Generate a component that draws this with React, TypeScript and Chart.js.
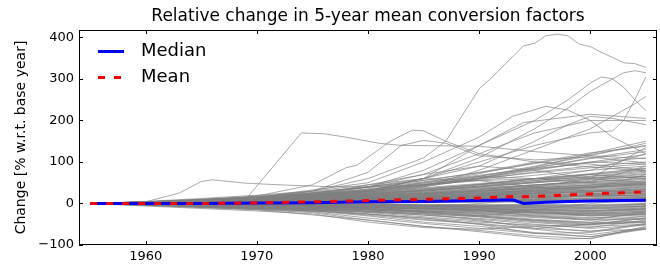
import React, { useEffect, useRef } from 'react';
import { Chart, registerables } from 'chart.js';

Chart.register(...registerables);

const TITLE = 'Relative change in 5-year mean conversion factors';
const Y_LABEL = 'Change [% w.r.t. base year]';
const X_TICKS = [1960, 1970, 1980, 1990, 2000];
const Y_TICKS = [-100, 0, 100, 200, 300, 400];
const X_MIN = 1954;
const X_MAX = 2006;
const Y_MIN = -100;
const Y_MAX = 418;

// common 5-year grid for the bulk of the country lines
const GRID_YEARS = [1955, 1960, 1965, 1970, 1975, 1980, 1985, 1990, 1995, 2000, 2005];
const BULK: number[][] = [
  [0, -3, -8, -12, -18, -30, -45, -55, -70, -80, -60],
  [0, -5, -10, -15, -22, -40, -55, -65, -78, -85, -55],
  [0, -2, -6, -10, -15, -25, -38, -50, -62, -75, -58],
  [0, -4, -9, -14, -20, -35, -48, -60, -72, -70, -50],
  [0, -6, -12, -18, -25, -45, -58, -62, -55, -50, -45],
  [0, -3, -7, -11, -16, -28, -40, -48, -60, -66, -62],
  [0, -2, -5, -9, -14, -22, -32, -42, -55, -68, -48],
  [0, -1, -4, -8, -12, -20, -28, -38, -50, -60, -52],
  [0, -4, -8, -12, -18, -26, -35, -45, -52, -58, -40],
  [0, -3, -6, -10, -13, -18, -25, -32, -44, -52, -35],
  [0, -2, -4, -7, -10, -15, -22, -30, -40, -48, -42],
  [0, -1, -3, -6, -9, -13, -20, -28, -38, -45, -30],
  [0, -3, -5, -8, -11, -16, -20, -26, -34, -40, -38],
  [0, -2, -4, -6, -8, -12, -18, -24, -30, -36, -25],
  [0, -1, -3, -5, -7, -10, -15, -20, -28, -34, -32],
  [0, -2, -5, -8, -10, -14, -18, -22, -26, -30, -28],
  [0, -1, -2, -4, -6, -9, -12, -18, -24, -28, -20],
  [0, -3, -6, -9, -12, -15, -17, -20, -22, -25, -22],
  [0, -1, -2, -3, -5, -8, -11, -15, -20, -24, -18],
  [0, -2, -3, -5, -8, -10, -12, -15, -18, -22, -15],
  [0, -1, -3, -4, -6, -7, -10, -12, -16, -20, -12],
  [0, -2, -4, -7, -9, -11, -13, -14, -15, -18, -10],
  [0, -1, -2, -3, -4, -6, -8, -10, -14, -16, -14],
  [0, -1, -1, -2, -4, -5, -7, -9, -12, -14, -8],
  [0, -2, -3, -4, -5, -6, -7, -8, -10, -12, -6],
  [0, -1, -2, -3, -3, -5, -6, -7, -8, -10, -5],
  [0, 0, -1, -2, -3, -4, -5, -6, -6, -8, -3],
  [0, -1, -2, -2, -2, -3, -4, -5, -5, -6, -2],
  [0, 0, -1, -1, -2, -2, -3, -4, -4, -5, -1],
  [0, -1, 0, -1, -1, -2, -2, -3, -2, -3, 0],
  [0, 1, 1, 2, 2, 3, 3, 4, 4, 5, 6],
  [0, 0, 1, 1, 2, 2, 3, 3, 5, 6, 7],
  [0, 1, 2, 2, 3, 3, 4, 5, 6, 7, 8],
  [0, 1, 1, 2, 3, 4, 5, 6, 5, 6, 9],
  [0, 2, 3, 4, 5, 5, 6, 7, 6, 8, 10],
  [0, 1, 2, 3, 4, 5, 6, 8, 7, 9, 12],
  [0, 2, 3, 5, 6, 7, 8, 10, 9, 11, 13],
  [0, 1, 3, 4, 6, 7, 9, 11, 10, 12, 15],
  [0, 2, 4, 5, 7, 8, 10, 12, 12, 14, 16],
  [0, 1, 2, 4, 5, 6, 7, 8, 3, 5, 4],
  [0, 2, 4, 6, 8, 10, 12, 14, 16, 18, 20],
  [0, 1, 3, 5, 7, 9, 11, 13, 15, 17, 18],
  [0, 3, 5, 7, 9, 11, 13, 15, 14, 18, 22],
  [0, 2, 4, 7, 9, 12, 14, 16, 18, 20, 24],
  [0, 1, 4, 6, 9, 11, 14, 17, 19, 22, 25],
  [0, 3, 6, 8, 10, 12, 15, 18, 21, 24, 28],
  [0, 2, 5, 8, 11, 14, 17, 20, 24, 27, 30],
  [0, 1, 3, 6, 10, 13, 16, 20, 25, 28, 32],
  [0, 2, 4, 6, 9, 12, 16, 22, 26, 30, 35],
  [0, 3, 5, 9, 12, 15, 20, 24, 28, 33, 38],
  [0, 1, 4, 7, 10, 14, 18, 23, 30, 36, 40],
  [0, 2, 6, 10, 14, 18, 22, 26, 32, 38, 42],
  [0, 3, 7, 11, 15, 19, 24, 28, 35, 40, 45],
  [0, 2, 5, 9, 13, 18, 23, 30, 36, 42, 48],
  [0, 1, 3, 5, 8, 12, 18, 25, 32, 40, 50],
  [0, 2, 4, 8, 12, 16, 22, 30, 38, 45, 52],
  [0, 4, 8, 12, 16, 20, 25, 32, 40, 48, 55],
  [0, 2, 6, 10, 15, 20, 26, 34, 42, 50, 58],
  [0, 3, 7, 12, 18, 24, 30, 38, 45, 52, 60],
  [0, 1, 5, 9, 14, 20, 27, 35, 44, 53, 62],
  [0, 3, 8, 13, 18, 25, 32, 40, 50, 58, 65],
  [0, 2, 6, 11, 17, 24, 32, 42, 52, 60, 70],
  [0, 4, 9, 14, 20, 28, 36, 45, 55, 65, 75],
  [0, 3, 7, 13, 20, 28, 38, 48, 60, 70, 80],
  [0, 2, 5, 10, 16, 24, 34, 46, 60, 72, 85],
  [0, 3, 8, 14, 22, 32, 44, 56, 68, 80, 90],
  [0, 4, 10, 16, 24, 34, 46, 60, 74, 86, 95],
  [0, 2, 6, 12, 20, 30, 42, 58, 76, 90, 100],
  [0, 3, 9, 15, 25, 38, 52, 68, 84, 98, 110],
  [0, 1, 4, 8, 14, 22, 32, 45, 60, 80, 120],
  [0, 2, 5, 9, 15, 25, 40, 60, 85, 110, 130],
  [0, 3, 7, 12, 20, 30, 45, 65, 90, 115, 145],
  [0, 2, 6, 11, 18, 28, 42, 62, 88, 120, 150],
  [0, 1, 3, 6, 10, 15, 22, 30, 40, 60, 135],
  [0, 2, 5, 9, 14, 20, 28, 36, 45, 52, 90],
  [0, 1, 2, 4, 6, 9, 14, 20, 28, 35, 70],
  [0, 5, 12, 20, 30, 45, 60, 55, 40, 30, 25],
  [0, 3, 8, 15, 25, 40, 70, 90, 80, 60, 50],
  [0, 2, 6, 12, 22, 35, 50, 65, 60, 50, 45],
  [0, 4, 10, 18, 28, 40, 55, 75, 100, 95, 80],
  [0, 2, 5, 10, 18, 30, 45, 60, 80, 100, 95],
  [0, 1, 3, 7, 12, 20, 30, 42, 55, 70, 60],
  [0, -2, -5, -8, -5, 0, 10, 20, 30, 25, 15],
  [0, -3, -6, -10, -15, -20, -10, 0, 10, 20, 30],
  [0, -1, -3, -5, -8, -12, -20, -30, -15, 0, 10],
  [0, 2, 4, 5, 3, 0, -5, -15, -30, -40, -20],
  [0, 3, 6, 8, 6, 2, -5, -10, -20, -30, -25],
  [0, -4, -8, -12, -16, -20, -25, -40, -60, -50, -35],
  [0, -2, -6, -12, -18, -25, -35, -50, -72, -80, -60],
  [0, 1, 2, 4, 6, 9, 13, 18, 22, 28, 34],
  [0, -1, -2, -4, -7, -10, -14, -18, -22, -26, -24],
  [0, 2, 3, 5, 8, 11, 15, 19, 24, 30, 36],
  [0, -2, -4, -6, -9, -13, -18, -24, -32, -38, -36],
  [0, 1, 3, 5, 8, 11, 15, 20, 26, 32, 40],
  [0, -1, -3, -6, -10, -15, -22, -30, -40, -46, -44],
  [0, 2, 4, 7, 10, 14, 19, 25, 30, 38, 46],
  [0, 0, -1, -3, -5, -8, -12, -16, -22, -28, -26],
  [0, 1, 2, 3, 5, 7, 10, 14, 18, 22, 26],
  [0, -1, -2, -3, -5, -7, -9, -11, -14, -17, -16],
  [0, 1, 2, 3, 4, 6, 8, 11, 14, 17, 19],
  [0, 0, -1, -2, -3, -4, -6, -8, -10, -12, -11],
  [0, 2, 3, 4, 6, 8, 11, 13, 16, 18, 21],
  [0, 1, 1, 2, 3, 5, 6, 8, 10, 12, 14],
  [0, -1, -1, -2, -3, -4, -5, -6, -7, -9, -7],
  [0, 1, 2, 2, 3, 4, 5, 6, 8, 9, 11],
  [0, 2, 5, 8, 12, 16, 21, 27, 34, 41, 48],
  [0, -2, -5, -8, -12, -18, -24, -32, -42, -50, -46],
  [0, 1, 4, 7, 11, 16, 22, 29, 37, 45, 54],
  [0, -3, -6, -10, -14, -20, -28, -36, -46, -55, -50],
  [0, 3, 6, 10, 14, 19, 25, 31, 38, 44, 50],
  [0, 1, 3, 6, 9, 13, 18, 24, 32, 40, 44],
  [0, -1, -2, -4, -6, -9, -13, -17, -20, -23, -19],
  [0, 2, 4, 6, 8, 10, 13, 16, 20, 24, 29],
  [0, -2, -3, -5, -7, -9, -11, -13, -16, -19, -13],
  [0, 1, 3, 5, 7, 10, 14, 19, 24, 28, 33],
  [0, 3, 5, 8, 12, 17, 24, 33, 44, 56, 66],
  [0, 2, 6, 10, 16, 23, 31, 40, 50, 62, 72],
  [0, 4, 8, 13, 19, 26, 35, 46, 58, 70, 84],
  [0, 1, 5, 10, 16, 22, 30, 40, 52, 66, 78],
  [0, 3, 8, 14, 22, 32, 45, 62, 82, 100, 118],
  [0, 2, 7, 13, 21, 32, 48, 66, 86, 108, 125],
  [0, 4, 9, 16, 26, 40, 56, 74, 96, 118, 140],
  [0, 2, 6, 12, 20, 32, 50, 72, 98, 122, 138],
];

// individually traced outlier lines: [year, value]
const OUTLIERS: [number, number][][] = [
  [[1955, 0], [1960, 3], [1965, 6], [1969, 10], [1974, 170], [1976, 168], [1978, 160], [1981, 145], [1983, 140], [1990, 138], [1995, 125], [2000, 115], [2005, 108]],
  [[1955, 0], [1960, 2], [1965, 5], [1970, 18], [1975, 45], [1978, 86], [1979, 92], [1982, 150], [1984, 177], [1985, 175], [1987, 150], [1990, 120], [1995, 100], [2000, 88], [2005, 78]],
  [[1955, 0], [1965, 6], [1970, 12], [1975, 30], [1980, 75], [1983, 140], [1985, 152], [1987, 145], [1990, 115], [1995, 105], [2000, 112], [2005, 98]],
  [[1955, 0], [1960, 4], [1963, 25], [1965, 53], [1966, 57], [1969, 49], [1972, 45], [1976, 41], [1980, 40], [1985, 45], [1990, 55], [1995, 60], [2000, 62], [2005, 65]],
  [[1955, 0], [1960, 2], [1965, 8], [1970, 15], [1975, 30], [1980, 60], [1985, 110], [1987, 150], [1990, 276], [1991, 300], [1994, 380], [1995, 386], [1996, 404], [1997, 408], [1998, 404], [1999, 384], [2000, 378], [2001, 364], [2002, 352], [2003, 339], [2004, 337], [2005, 328]],
  [[1955, 0], [1960, 1], [1970, 10], [1980, 40], [1985, 80], [1990, 140], [1995, 200], [1998, 250], [2000, 290], [2001, 305], [2002, 300], [2003, 280], [2004, 250], [2005, 224]],
  [[1955, 0], [1960, 2], [1975, 20], [1985, 60], [1990, 110], [1995, 180], [1998, 230], [2000, 270], [2002, 300], [2003, 315], [2004, 320], [2005, 315]],
  [[1955, 0], [1960, 1], [1970, 5], [1980, 30], [1985, 60], [1990, 100], [1995, 140], [2000, 170], [2002, 175], [2003, 200], [2004, 250], [2005, 305]],
  [[1955, 0], [1960, 1], [1975, 15], [1985, 40], [1990, 80], [1995, 130], [2000, 180], [2002, 210], [2004, 240], [2005, 258]],
  [[1955, 0], [1960, 2], [1970, 15], [1980, 50], [1985, 100], [1990, 160], [1993, 210], [1996, 234], [1998, 225], [2000, 200], [2002, 160], [2005, 120]],
  [[1955, 0], [1960, 1], [1975, 20], [1985, 70], [1990, 120], [1995, 170], [2000, 200], [2005, 200]],
  [[1955, 0], [1960, 2], [1980, 30], [1990, 90], [1995, 150], [1998, 190], [2000, 210], [2002, 205], [2005, 190]],
  [[1955, 0], [1970, 10], [1980, 30], [1985, 60], [1990, 140], [1994, 195], [2000, 215], [2005, 205]],
  [[1955, 0], [1960, -3], [1970, -15], [1980, -40], [1985, -55], [1990, -68], [1995, -82], [1997, -86], [2000, -84], [2003, -70], [2005, -62]],
];

const MEDIAN_YEARS = [1955, 1960, 1965, 1970, 1975, 1980, 1985, 1990, 1993, 1994, 1996, 1998, 2000, 2005];
const MEDIAN_VALUES = [0, 0, 0, 1, 2, 4, 5, 7, 9, 0, 3, 5, 6, 8];
const MEAN_YEARS = [1955, 1960, 1965, 1970, 1975, 1980, 1985, 1990, 1993, 1994, 1995, 2000, 2005];
const MEAN_VALUES = [0, 0, 0, 1.5, 4, 7, 10, 13, 17, 16, 17, 23, 28];

const FONT = '"DejaVu Sans", sans-serif';
const DASH = [7, 9];

const fmtTick = (v: number) => (v < 0 ? '\u2212' + Math.abs(v) : String(v));

export default function App() {
  const ref = useRef<HTMLCanvasElement>(null);

  useEffect(() => {
    document.body.style.margin = '0';
    const canvas = ref.current;
    if (!canvas) return;

    const grayDatasets = [
      ...BULK.map((vals) => vals.map((v, i) => ({ x: GRID_YEARS[i], y: v }))),
      ...OUTLIERS.map((pts) => pts.map(([x, y]) => ({ x, y }))),
    ].map((data) => ({
      label: '',
      data,
      borderColor: 'rgba(128,128,128,0.85)',
      borderWidth: 0.8,
      pointRadius: 0,
      fill: false,
    }));

    const decor = {
      id: 'decor',
      afterDraw(chart: any) {
        const { ctx, chartArea } = chart;
        const { left, right, top, bottom } = chartArea;
        const xs = chart.scales.x;
        const ys = chart.scales.y;
        ctx.save();
        // frame
        ctx.strokeStyle = '#000';
        ctx.lineWidth = 1;
        ctx.strokeRect(left + 0.5, top + 0.5, right - left - 1, bottom - top - 1);
        // inward ticks
        ctx.beginPath();
        for (const v of Y_TICKS) {
          const y = Math.round(ys.getPixelForValue(v)) + 0.5;
          ctx.moveTo(left, y);
          ctx.lineTo(left + 4, y);
          ctx.moveTo(right, y);
          ctx.lineTo(right - 4, y);
        }
        for (const v of X_TICKS) {
          const x = Math.round(xs.getPixelForValue(v)) + 0.5;
          ctx.moveTo(x, bottom);
          ctx.lineTo(x, bottom - 4);
          ctx.moveTo(x, top);
          ctx.lineTo(x, top + 4);
        }
        ctx.stroke();
        // title
        ctx.fillStyle = '#000';
        ctx.font = '17px ' + FONT;
        ctx.textAlign = 'center';
        ctx.textBaseline = 'alphabetic';
        ctx.fillText(TITLE, (left + right) / 2, 21);
        // y label
        ctx.save();
        ctx.translate(21, (top + bottom) / 2);
        ctx.rotate(-Math.PI / 2);
        ctx.font = '14px ' + FONT;
        ctx.textBaseline = 'middle';
        ctx.fillText(Y_LABEL, 0, 0);
        ctx.restore();
        // legend
        const entries = [chart.data.datasets[1], chart.data.datasets[0]];
        const ly = [51.5, 77.5];
        ctx.font = '18px ' + FONT;
        ctx.textAlign = 'left';
        ctx.textBaseline = 'middle';
        entries.forEach((ds: any, i: number) => {
          ctx.beginPath();
          ctx.strokeStyle = ds.borderColor;
          ctx.lineWidth = 3;
          ctx.setLineDash(ds.borderDash || []);
          ctx.moveTo(98, ly[i]);
          ctx.lineTo(124, ly[i]);
          ctx.stroke();
          ctx.setLineDash([]);
          ctx.fillStyle = '#000';
          ctx.fillText(ds.label, 141, ly[i]);
        });
        ctx.restore();
      },
    };

    const chart = new Chart(canvas, {
      type: 'line',
      data: {
        datasets: [
          {
            label: 'Mean',
            data: MEAN_YEARS.map((x, i) => ({ x, y: MEAN_VALUES[i] })),
            borderColor: '#ff0000',
            borderWidth: 3,
            borderDash: DASH,
            pointRadius: 0,
            fill: false,
          },
          {
            label: 'Median',
            data: MEDIAN_YEARS.map((x, i) => ({ x, y: MEDIAN_VALUES[i] })),
            borderColor: '#0000ff',
            borderWidth: 3,
            pointRadius: 0,
            fill: false,
          },
          ...grayDatasets,
        ],
      } as any,
      options: {
        animation: false,
        responsive: false,
        events: [],
        layout: { padding: { top: 30, right: 3, left: 0, bottom: 0 } },
        plugins: { legend: { display: false }, title: { display: false }, tooltip: { enabled: false } },
        scales: {
          x: {
            type: 'linear',
            min: X_MIN,
            max: X_MAX,
            border: { display: false },
            grid: { display: false, drawTicks: false },
            afterBuildTicks: (s: any) => {
              s.ticks = X_TICKS.map((v) => ({ value: v }));
            },
            afterFit: (s: any) => {
              s.height = 23;
            },
            ticks: {
              padding: 4,
              color: '#000',
              maxRotation: 0,
              autoSkip: false,
              font: { family: FONT, size: 13 },
              callback: (v: any) => fmtTick(Number(v)),
            },
          },
          y: {
            type: 'linear',
            min: Y_MIN,
            max: Y_MAX,
            border: { display: false },
            grid: { display: false, drawTicks: false },
            afterBuildTicks: (s: any) => {
              s.ticks = Y_TICKS.map((v) => ({ value: v }));
            },
            afterFit: (s: any) => {
              s.width = 79;
            },
            ticks: {
              padding: 5,
              color: '#000',
              autoSkip: false,
              font: { family: FONT, size: 13 },
              callback: (v: any) => fmtTick(Number(v)),
            },
          },
        },
      } as any,
      plugins: [decor],
    });

    return () => chart.destroy();
  }, []);

  return (
    <div style={{ position: 'absolute', left: 0, top: 0, width: 660, height: 268 }}>
      <canvas ref={ref} width={660} height={268} style={{ width: 660, height: 268 }} />
    </div>
  );
}
